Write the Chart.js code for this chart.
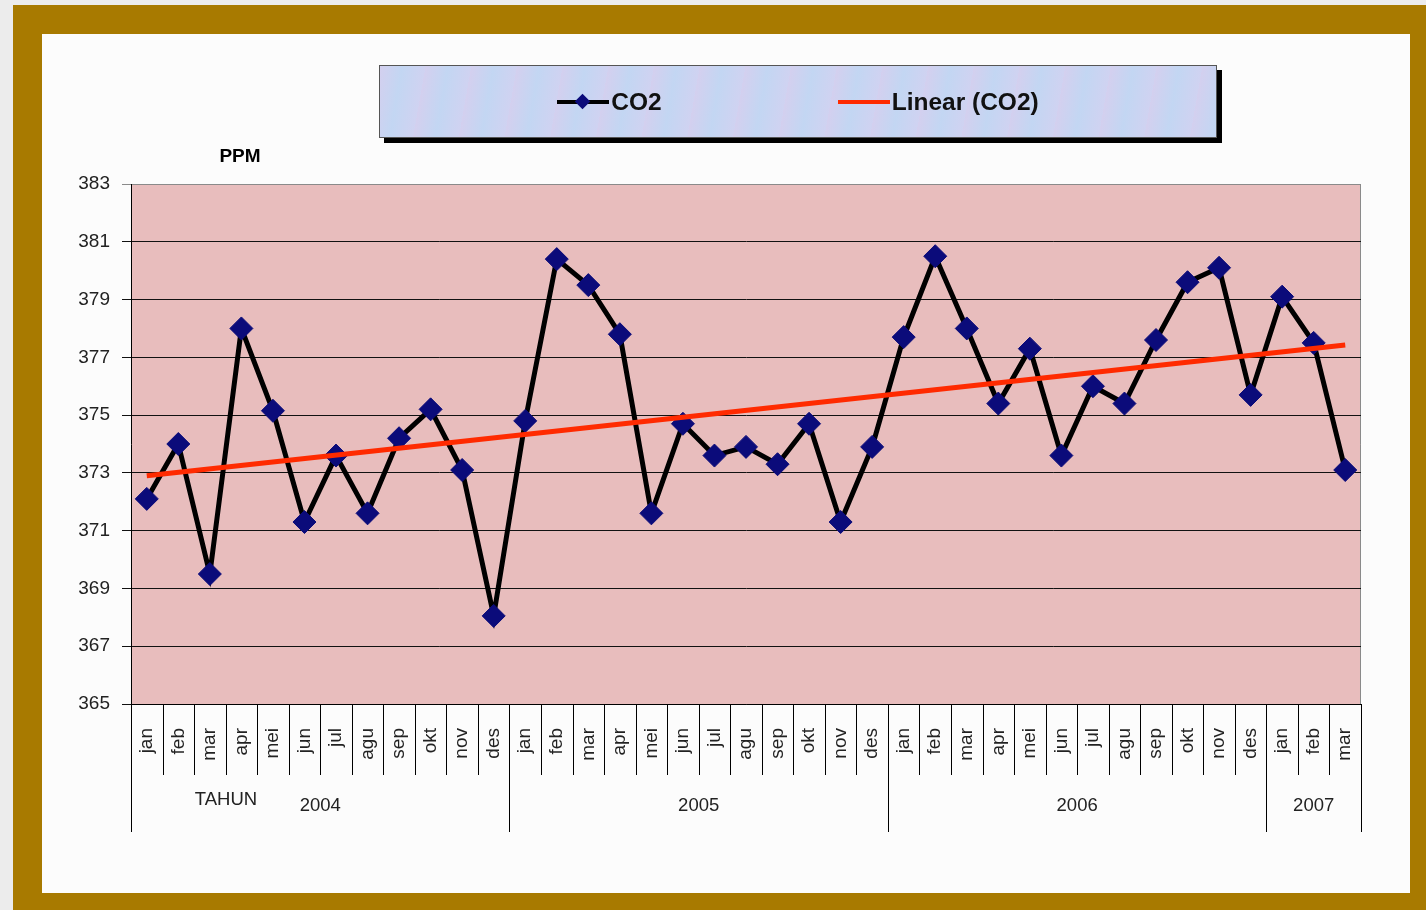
<!DOCTYPE html>
<html>
<head>
<meta charset="utf-8">
<title>CO2</title>
<script src="https://cdn.jsdelivr.net/npm/chart.js@4.4.0/dist/chart.umd.min.js"></script>
<style>
    html, body { margin: 0; padding: 0; width: 1426px; height: 910px; overflow: hidden; background: #ececec; }
    #frame { position: absolute; left: 13px; top: 5px; width: 1413px; height: 905px; background: #a87a00; }
    #inner { position: absolute; left: 29px; top: 29px; width: 1368px; height: 859px; background: #fcfcfc; }
    #grafik { position: absolute; left: 0; top: 0; }
    #legenda {
        position: absolute; left: 337px; top: 31px; width: 836px; height: 71px;
        border: 1px solid #555;
        box-shadow: 5px 5px 0 #000;
        background:
            repeating-linear-gradient(100deg, rgba(230, 200, 235, 0.45) 0, rgba(190, 215, 245, 0.2) 22px, rgba(225, 205, 240, 0.4) 45px),
            #c4d6f2;
        display: flex; align-items: center; justify-content: center; gap: 176px;
        font: bold 24.5px Arial, "Liberation Sans", sans-serif; color: #111;
    }
    .item { display: flex; align-items: center; }
    .simbol { position: relative; width: 52px; height: 4px; margin-right: 2px; }
    .simbol .wajik {
        position: absolute; left: 20px; top: -4px; width: 11px; height: 11px;
        background: #0b0b7a; transform: rotate(45deg);
    }
</style>
</head>
<body>
<div id="frame">
    <div id="inner">
        <canvas id="grafik" width="1368" height="859"></canvas>
        <div id="legenda"></div>
    </div>
</div>
<script>
// Data CO2 bulanan (ppm), jan 2004 - mar 2007
const namaBulan = ['jan', 'feb', 'mar', 'apr', 'mei', 'jun', 'jul', 'agu', 'sep', 'okt', 'nov', 'des'];
const tahun = ['2004', '2005', '2006', '2007'];
const jumlahBulan = [12, 12, 12, 3];

const co2 = [
    372.1, 374.0, 369.5, 378.0, 375.15, 371.3, 373.6, 371.6, 374.2, 375.2, 373.1, 368.05,
    374.8, 380.4, 379.5, 377.8, 371.6, 374.7, 373.6, 373.9, 373.3, 374.7, 371.3, 373.9,
    377.7, 380.5, 378.0, 375.4, 377.3, 373.6, 376.0, 375.4, 377.6, 379.6, 380.1, 375.7,
    379.1, 377.5, 373.1
];

// Garis tren linear: nilai awal dan akhir
const trenAwal = 372.9;
const trenAkhir = 377.43;

const yTicks = [365, 367, 369, 371, 373, 375, 377, 379, 381, 383];

// Label kategori (bulan untuk tiap tahun)
const labels = [];
jumlahBulan.forEach(function (n) {
    for (let i = 0; i < n; i++) labels.push(namaBulan[i]);
});

const tren = labels.map(function (l, i) {
    if (i === 0) return trenAwal;
    if (i === labels.length - 1) return trenAkhir;
    return null;
});

const FONT = 'Arial, "Liberation Sans", sans-serif';

// Latar area plot + garis tepi abu-abu
const latarPlot = {
    id: 'latarPlot',
    beforeDraw(chart) {
        const { ctx, chartArea: a } = chart;
        ctx.save();
        ctx.fillStyle = '#e8bdbd';
        ctx.fillRect(a.left, a.top, a.right - a.left, a.bottom - a.top);
        ctx.strokeStyle = '#8a8a8a';
        ctx.lineWidth = 1;
        ctx.beginPath();
        ctx.moveTo(a.left, a.top + 0.5);
        ctx.lineTo(a.right - 0.5, a.top + 0.5);
        ctx.lineTo(a.right - 0.5, a.bottom);
        ctx.stroke();
        ctx.restore();
    }
};

// Sumbu kategori dua tingkat (bulan / tahun) dan judul PPM
const sumbuTahun = {
    id: 'sumbuTahun',
    afterDraw(chart) {
        const { ctx, chartArea: a } = chart;
        const x = chart.scales.x;
        const step = x.getPixelForValue(1) - x.getPixelForValue(0);
        ctx.save();
        ctx.strokeStyle = '#000';
        ctx.lineWidth = 1;

        // batas tiap tahun
        const batas = [0];
        jumlahBulan.forEach(function (n) { batas.push(batas[batas.length - 1] + n); });

        for (let i = 0; i <= labels.length; i++) {
            const px = Math.round(x.getPixelForValue(i) - step / 2) + 0.5;
            const panjang = batas.indexOf(i) >= 0 ? 128 : 71;
            ctx.beginPath();
            ctx.moveTo(px, a.bottom);
            ctx.lineTo(px, a.bottom + panjang);
            ctx.stroke();
        }

        ctx.fillStyle = '#222';
        ctx.font = '18.5px ' + FONT;
        ctx.textAlign = 'center';
        ctx.textBaseline = 'middle';
        tahun.forEach(function (t, k) {
            const tengah = (x.getPixelForValue(batas[k]) + x.getPixelForValue(batas[k + 1] - 1)) / 2;
            ctx.fillText(t, tengah, a.bottom + 102);
        });
        ctx.fillText('TAHUN', a.left + 95, a.bottom + 96);

        ctx.font = 'bold 19px ' + FONT;
        ctx.fillStyle = '#000';
        ctx.fillText('PPM', a.left + 109, a.top - 27);
        ctx.restore();
    }
};

// Legenda HTML dari dataset
const legendaHtml = {
    id: 'legendaHtml',
    afterUpdate(chart) {
        const box = document.getElementById('legenda');
        box.innerHTML = '';
        chart.data.datasets.forEach(function (ds) {
            const item = document.createElement('div');
            item.className = 'item';
            const simbol = document.createElement('span');
            simbol.className = 'simbol';
            simbol.style.background = ds.borderColor;
            if (ds.pointRadius > 0) {
                const w = document.createElement('span');
                w.className = 'wajik';
                simbol.appendChild(w);
            }
            const teks = document.createElement('span');
            teks.textContent = ds.label;
            item.appendChild(simbol);
            item.appendChild(teks);
            box.appendChild(item);
        });
    }
};

new Chart(document.getElementById('grafik'), {
    type: 'line',
    data: {
        labels: labels,
        datasets: [
            {
                label: 'CO2',
                data: co2,
                borderColor: '#000000',
                borderWidth: 5,
                pointStyle: 'rectRot',
                pointRadius: 11.5,
                pointHoverRadius: 11.5,
                pointBackgroundColor: '#0b0b7a',
                pointBorderColor: '#0b0b7a',
                pointBorderWidth: 1,
                tension: 0,
                order: 1
            },
            {
                label: 'Linear (CO2)',
                data: tren,
                borderColor: '#ff2a00',
                borderWidth: 5,
                pointRadius: 0,
                spanGaps: true,
                order: 0
            }
        ]
    },
    options: {
        responsive: false,
        animation: false,
        events: [],
        layout: { padding: { top: 150, right: 49, left: 0, bottom: 0 } },
        plugins: {
            legend: { display: false },
            tooltip: { enabled: false }
        },
        scales: {
            x: {
                offset: true,
                grid: { display: false, drawTicks: false, tickLength: 0 },
                border: { display: true, color: '#000', width: 1 },
                ticks: {
                    autoSkip: false,
                    minRotation: 90,
                    maxRotation: 90,
                    padding: 24,
                    color: '#222',
                    font: { family: FONT, size: 19 }
                },
                afterFit: function (s) { s.height = 189; }
            },
            y: {
                min: 365,
                max: 383,
                afterBuildTicks: function (s) { s.ticks = yTicks.map(function (v) { return { value: v }; }); },
                grid: {
                    color: function (c) { return c.tick && c.tick.value === 383 ? '#8a8a8a' : '#111'; },
                    lineWidth: 1,
                    tickLength: 9
                },
                border: { display: true, color: '#000', width: 1 },
                ticks: {
                    padding: 12,
                    color: '#222',
                    font: { family: FONT, size: 19 }
                },
                afterFit: function (s) { s.width = 89; }
            }
        }
    },
    plugins: [latarPlot, sumbuTahun, legendaHtml]
});
</script>
</body>
</html>
